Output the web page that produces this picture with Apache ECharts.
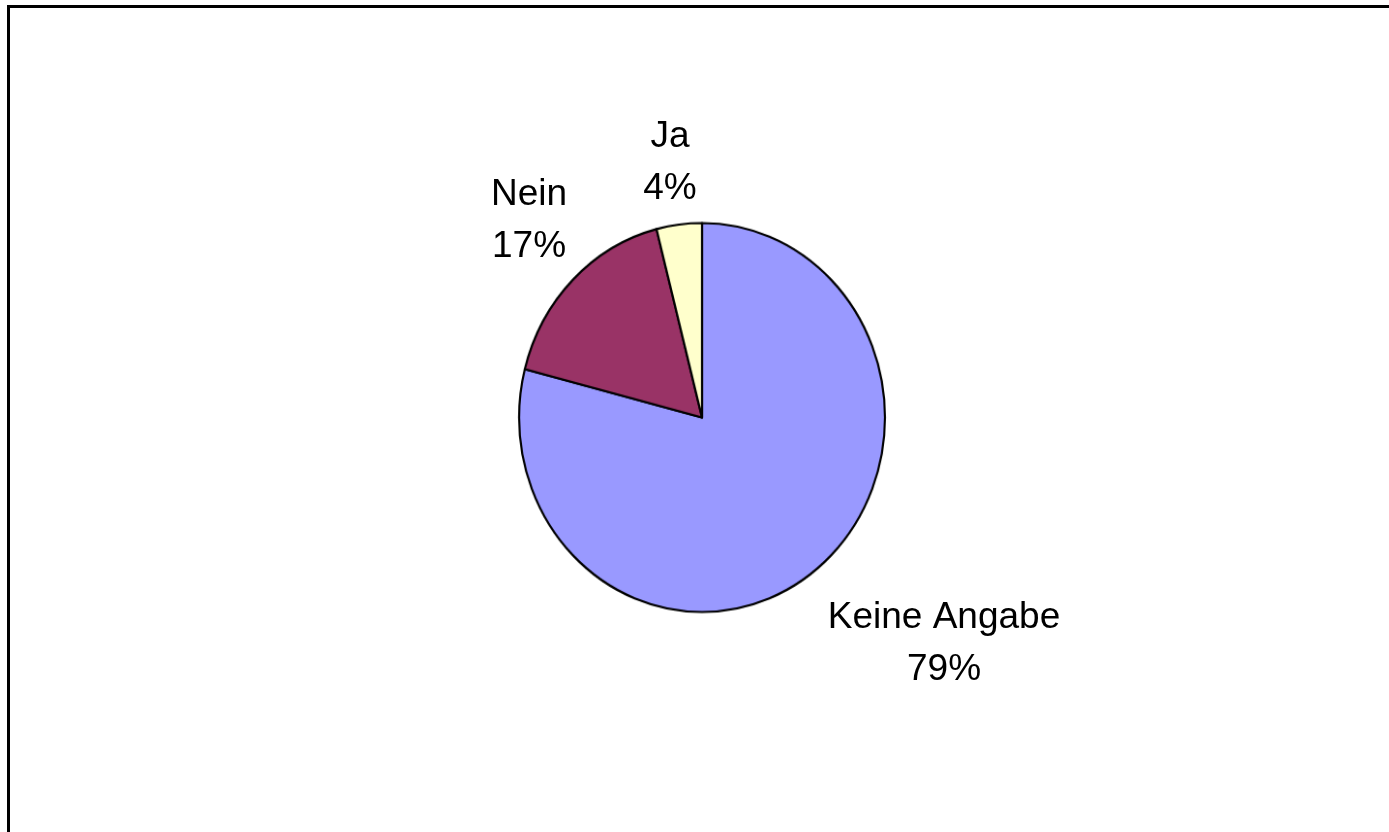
<!DOCTYPE html>
<html>
<head>
<meta charset="utf-8">
<title>Pie</title>
<script src="https://cdn.jsdelivr.net/npm/echarts@6/dist/echarts.min.js"></script>
<style>
    html, body {margin: 0; padding: 0; background: #fff;}
    .box {position: absolute; left: 0; top: 0; width: 1389px; height: 832px;}
    /* the original pie is slightly taller than wide */
    #pie {transform: scale(0.968, 1.029); transform-origin: 702px 417.5px;}
</style>
</head>
<body>
<div id="frame" class="box"></div>
<div id="pie" class="box"></div>
<div id="labels" class="box"></div>
<script>
var categories = ['Keine Angabe', 'Nein', 'Ja'];
var values = [79, 17, 4];
var colors = ['#9999FF', '#993366', '#FFFFCC'];
// label centres (px), one per slice
var labelPos = [[944, 644], [529, 221], [670, 163]];

var pieData = [], labelData = [];
for (var i = 0; i < categories.length; i++) {
    pieData.push({name: categories[i], value: values[i], itemStyle: {color: colors[i]}});
    labelData.push({name: categories[i], value: values[i]});
}

var baseSeries = {
    type: 'pie',
    center: [702, 417.5],
    radius: 189,
    startAngle: 90,
    clockwise: true,
    percentPrecision: 0,
    emphasis: {disabled: true},
    labelLine: {show: false}
};

// frame
var frameChart = echarts.init(document.getElementById('frame'));
frameChart.setOption({
    animation: false,
    backgroundColor: '#fff',
    graphic: [{
        type: 'rect',
        shape: {x: 8.5, y: 6.5, width: 1500, height: 1000},
        style: {fill: 'none', stroke: '#000', lineWidth: 3},
        silent: true
    }]
});

// slices
var pieChart = echarts.init(document.getElementById('pie'));
pieChart.setOption({
    animation: false,
    series: [Object.assign({}, baseSeries, {
        data: pieData,
        itemStyle: {borderColor: '#000', borderWidth: 2.2},
        label: {show: false}
    })]
});

// labels (same values, slices left transparent)
var labelChart = echarts.init(document.getElementById('labels'));
labelChart.setOption({
    animation: false,
    series: [Object.assign({}, baseSeries, {
        data: labelData,
        itemStyle: {color: 'rgba(0,0,0,0)', borderWidth: 0},
        label: {
            show: true,
            position: 'outside',
            formatter: '{b}\n{d}%',
            fontFamily: 'Liberation Sans, Arial, sans-serif',
            fontSize: 37,
            lineHeight: 52,
            color: '#000',
            align: 'center'
        },
        labelLayout: function (params) {
            var p = labelPos[params.dataIndex];
            return {x: p[0], y: p[1], align: 'center', verticalAlign: 'middle'};
        }
    })]
});
</script>
</body>
</html>
